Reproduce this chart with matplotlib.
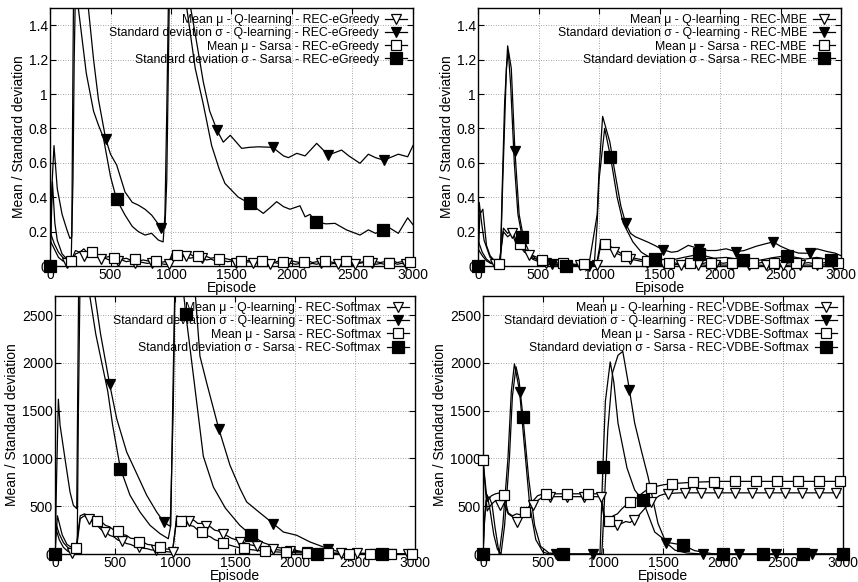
import numpy as np
import matplotlib
matplotlib.use('Agg')
import matplotlib.pyplot as plt
from matplotlib.lines import Line2D
from matplotlib.ticker import FuncFormatter

plt.rcParams['font.family'] = ['Liberation Sans', 'DejaVu Sans']
plt.rcParams['font.size'] = 10

# episodes of the mean curves (one value every 35 episodes)
grid = np.arange(0, 3001, 35)

# ---------------- REC-eGreedy ----------------
tl_mq = [0.15, 0.10, 0.05, 0.03, 0.02, 0.01,
         0.07, 0.08, 0.06, 0.07, 0.05, 0.055, 0.04, 0.045, 0.035, 0.04, 0.03, 0.035, 0.025, 0.03,
         0.02, 0.025, 0.02, 0.015, 0.02, 0.01, 0.015, 0.01,
         0.01,
         0.06, 0.07, 0.05, 0.06, 0.045, 0.05, 0.04, 0.045, 0.035, 0.04,
         0.03, 0.035, 0.03, 0.025, 0.03, 0.02, 0.025, 0.02, 0.025, 0.015,
         0.02, 0.015, 0.02, 0.01, 0.02, 0.015, 0.01, 0.02, 0.015, 0.01,
         0.015, 0.02, 0.01, 0.015, 0.01, 0.02, 0.015, 0.01, 0.015, 0.01,
         0.02, 0.01, 0.015, 0.01, 0.015, 0.02, 0.01, 0.015, 0.01, 0.015,
         0.01, 0.015, 0.02, 0.01, 0.015, 0.01, 0.015]
tl_ms = [0.20, 0.13, 0.08, 0.05, 0.035, 0.03,
         0.09, 0.08, 0.10, 0.07, 0.08, 0.06, 0.065, 0.05, 0.055, 0.045, 0.05, 0.04, 0.045, 0.035,
         0.04, 0.03, 0.035, 0.03, 0.025, 0.03, 0.02, 0.025,
         0.02,
         0.08, 0.065, 0.075, 0.06, 0.07, 0.055, 0.06, 0.05, 0.055, 0.045,
         0.05, 0.04, 0.045, 0.04, 0.035, 0.04, 0.03, 0.035, 0.03, 0.035,
         0.025, 0.03, 0.025, 0.03, 0.02, 0.03, 0.025, 0.02, 0.03, 0.025,
         0.02, 0.025, 0.03, 0.02, 0.025, 0.02, 0.03, 0.025, 0.02, 0.025,
         0.02, 0.03, 0.02, 0.025, 0.02, 0.025, 0.03, 0.02, 0.025, 0.02,
         0.025, 0.02, 0.03, 0.02, 0.025, 0.02, 0.025]
tl_sq_x = [0, 15, 33, 60, 100, 140, 165, 180, 190, 200, 240, 300, 317, 360, 400, 460, 500, 551, 620, 680,
           730, 785, 840, 920, 950, 965, 985, 1000, 1050, 1150, 1200, 1267, 1320, 1380, 1432, 1490, 1584,
           1650, 1722, 1840, 1930, 1970, 2040, 2108, 2204, 2300, 2410, 2470, 2562, 2631, 2690, 2760, 2810,
           2879, 2956, 3000]
tl_sq_y = [0, 0.45, 0.70, 0.45, 0.30, 0.21, 0.16, 0.17, 1.2, 2.0, 2.6, 1.6, 1.5, 1.2, 0.97, 0.74, 0.65,
           0.587, 0.43, 0.37, 0.354, 0.33, 0.296, 0.22, 0.22, 0.5, 1.5, 2.0, 2.4, 1.55, 1.35, 1.07, 0.9,
           0.79, 0.72, 0.76, 0.684, 0.69, 0.693, 0.69, 0.64, 0.63, 0.655, 0.64, 0.713, 0.645, 0.674, 0.64,
           0.597, 0.65, 0.63, 0.615, 0.63, 0.65, 0.635, 0.70]
tl_ss_x = [0, 20, 40, 60, 100, 140, 175, 190, 200, 215, 234, 300, 360, 400, 440, 500, 550, 620, 680, 730,
           785, 840, 895, 935, 950, 965, 980, 1050, 1100, 1130, 1200, 1267, 1336, 1400, 1446, 1556, 1650,
           1763, 1820, 1873, 1930, 1983, 2066, 2108, 2149, 2200, 2280, 2355, 2450, 2562, 2631, 2690, 2750,
           2810, 2879, 2956, 3000]
tl_ss_y = [0, 0.49, 0.25, 0.15, 0.07, 0.04, 0.03, 0.5, 1.2, 1.8, 1.5, 1.12, 0.9, 0.82, 0.75, 0.52, 0.388,
           0.296, 0.23, 0.20, 0.18, 0.19, 0.151, 0.14, 0.3, 0.9, 1.6, 2.2, 1.9, 1.5, 1.15, 0.94, 0.70, 0.56,
           0.48, 0.40, 0.364, 0.306, 0.34, 0.374, 0.345, 0.33, 0.35, 0.286, 0.30, 0.257, 0.245, 0.248, 0.21,
           0.18, 0.21, 0.19, 0.209, 0.22, 0.19, 0.28, 0.24]

# ---------------- REC-MBE ----------------
tr_mq = [0.10, 0.06, 0.03, 0.015, 0.01, 0.005,
         0.20, 0.17, 0.19, 0.13, 0.11, 0.08, 0.065, 0.045, 0.04, 0.025, 0.02, 0.015, 0.012, 0.01,
         0.008, 0.006, 0.005, 0.005, 0.004, 0.004, 0.003, 0.003,
         0.003,
         0.12, 0.10, 0.11, 0.08, 0.07, 0.06, 0.05, 0.04, 0.035, 0.03,
         0.025, 0.02, 0.018, 0.015, 0.012, 0.01, 0.01, 0.008, 0.008, 0.006,
         0.006, 0.005, 0.007, 0.005, 0.006, 0.004, 0.006, 0.005, 0.007, 0.005,
         0.006, 0.005, 0.004, 0.006, 0.005, 0.007, 0.005, 0.006, 0.004, 0.006,
         0.005, 0.007, 0.005, 0.006, 0.004, 0.006, 0.005, 0.007, 0.005, 0.006,
         0.004, 0.006, 0.005, 0.007, 0.005, 0.006, 0.005]
tr_ms = [0.15, 0.08, 0.04, 0.02, 0.015, 0.01,
         0.22, 0.19, 0.21, 0.15, 0.13, 0.10, 0.08, 0.06, 0.05, 0.035, 0.03, 0.025, 0.02, 0.018,
         0.015, 0.013, 0.012, 0.01, 0.01, 0.01, 0.01, 0.01,
         0.01,
         0.15, 0.13, 0.12, 0.10, 0.085, 0.07, 0.06, 0.05, 0.045, 0.04,
         0.035, 0.03, 0.028, 0.025, 0.02, 0.02, 0.018, 0.02, 0.015, 0.018,
         0.015, 0.02, 0.016, 0.018, 0.014, 0.02, 0.017, 0.015, 0.019, 0.016,
         0.02, 0.015, 0.018, 0.016, 0.02, 0.014, 0.018, 0.016, 0.02, 0.015,
         0.018, 0.016, 0.02, 0.015, 0.017, 0.019, 0.015, 0.018, 0.016, 0.02,
         0.015, 0.018, 0.016, 0.02, 0.015, 0.018, 0.016]
tr_sq_x = [0, 10, 30, 50, 100, 150, 185, 200, 220, 245, 275, 305, 340, 380, 430, 500, 610, 700, 915, 985,
           1000, 1030, 1050, 1090, 1130, 1180, 1220, 1260, 1300, 1400, 1460, 1525, 1600, 1650, 1738, 1830,
           1900, 1970, 2050, 2135, 2200, 2300, 2380, 2440, 2500, 2580, 2650, 2745, 2800, 2880, 2950, 3000]
tr_sq_y = [0, 0.37, 0.25, 0.15, 0.05, 0.02, 0.02, 0.45, 0.95, 1.28, 1.15, 0.67, 0.30, 0.15, 0.07, 0.03,
           0.01, 0.01, 0.0, 0.30, 0.55, 0.87, 0.82, 0.72, 0.55, 0.35, 0.25, 0.19, 0.17, 0.14, 0.12, 0.095,
           0.08, 0.085, 0.12, 0.10, 0.09, 0.09, 0.10, 0.083, 0.09, 0.115, 0.13, 0.14, 0.115, 0.09, 0.075,
           0.074, 0.10, 0.085, 0.075, 0.06]
tr_ss_x = [0, 15, 40, 70, 100, 150, 185, 205, 235, 250, 270, 300, 330, 365, 400, 450, 550, 730, 960, 985,
           1000, 1047, 1095, 1150, 1200, 1280, 1350, 1420, 1460, 1600, 1700, 1825, 1950, 2050, 2190, 2300,
           2450, 2555, 2700, 2800, 2920, 3000]
tr_ss_y = [0, 0.30, 0.33, 0.12, 0.06, 0.02, 0.02, 0.5, 1.15, 1.25, 1.05, 0.6, 0.3, 0.17, 0.08, 0.04, 0.01,
           0.0, 0.0, 0.25, 0.5, 0.80, 0.635, 0.40, 0.25, 0.14, 0.08, 0.05, 0.04, 0.035, 0.05, 0.068, 0.045,
           0.05, 0.035, 0.03, 0.05, 0.06, 0.04, 0.05, 0.035, 0.03]

# ---------------- REC-Softmax ----------------
bl_mq = [300, 150, 70, 30, 10, 5,
         370, 400, 370, 330, 300, 255, 235, 195, 180, 145, 135, 110, 100, 80,
         75, 60, 55, 42, 40, 30, 28, 22,
         20,
         400, 370, 380, 350, 355, 320, 320, 290, 285, 250,
         240, 205, 190, 165, 150, 130, 120, 100, 92, 80,
         72, 62, 56, 48, 44, 38, 34, 30, 27, 24,
         21, 19, 17, 15, 14, 12, 11, 10, 9, 8,
         8, 7, 7, 6, 6, 5, 5, 5, 4, 4,
         4, 4, 3, 3, 3, 3, 3]
bl_ms = [350, 210, 120, 70, 45, 60,
         400, 420, 395, 390, 350, 340, 300, 285, 250, 240, 205, 195, 165, 160,
         130, 125, 100, 95, 75, 70, 55, 50,
         45,
         370, 350, 340, 300, 290, 250, 230, 195, 180, 150,
         135, 115, 100, 88, 75, 66, 58, 50, 44, 38,
         34, 30, 27, 24, 21, 19, 17, 15, 14, 12,
         11, 10, 9, 8, 8, 7, 7, 6, 6, 5,
         5, 5, 5, 4, 4, 4, 4, 4, 3, 3,
         3, 3, 3, 3, 3, 3, 3]
bl_sq_x = [0, 15, 28, 42, 83, 125, 153, 181, 190, 200, 250, 300, 333, 380, 455, 514, 597, 681, 764, 847,
           910, 960, 985, 1000, 1050, 1100, 1170, 1208, 1264, 1365, 1458, 1542, 1597, 1681, 1820, 1903,
           2014, 2125, 2275, 2375, 2500, 2730, 3000]
bl_sq_y = [0, 900, 1620, 1350, 1000, 650, 510, 475, 1800, 3200, 3600, 3000, 2700, 2300, 1780, 1417, 1068,
           841, 615, 440, 330, 290, 1500, 2800, 3400, 3300, 2700, 2070, 1790, 1310, 929, 684, 545, 458,
           317, 230, 196, 126, 56, 20, 8, 3, 2]
bl_ss_x = [0, 20, 60, 100, 150, 185, 195, 210, 260, 290, 340, 440, 480, 545, 625, 708, 792, 875, 944, 965,
           980, 1000, 1040, 1090, 1160, 1236, 1320, 1420, 1540, 1635, 1736, 1850, 2000, 2100, 2180, 2400,
           2725, 3000]
bl_ss_y = [0, 400, 200, 100, 60, 60, 1500, 3000, 3200, 2700, 2300, 1700, 1350, 894, 615, 440, 300, 213,
           160, 300, 1500, 2900, 3100, 2510, 1800, 1023, 700, 480, 300, 196, 118, 70, 40, 15, 3, 1, 0, 0]

# ---------------- REC-VDBE-Softmax ----------------
br_mq = [980, 450, 520, 560, 510, 540,
         420, 390, 340, 380, 410, 460, 510, 560, 590, 600, 600, 600, 600, 600,
         600, 600, 600, 600, 600, 600, 600, 600,
         600,
         330, 360, 310, 300, 320, 340, 330, 360, 400, 450,
         500, 540, 580, 610, 625, 630, 635, 638, 640, 640,
         640, 640, 640, 640, 640, 640, 640, 640, 640, 640,
         640, 640, 640, 640, 640, 640, 640, 640, 640, 640,
         640, 640, 640, 640, 640, 640, 640, 640, 640, 640,
         640, 640, 640, 640, 640, 640, 640]
br_ms = [980, 550, 610, 630, 640, 620,
         430, 400, 420, 410, 440, 500, 560, 610, 625, 630, 630, 630, 630, 630,
         630, 630, 630, 630, 630, 630, 630, 630,
         630,
         380, 350, 400, 420, 470, 510, 540, 570, 600, 640,
         670, 690, 705, 715, 725, 730, 735, 740, 742, 745,
         748, 750, 752, 754, 755, 757, 758, 760, 760, 760,
         760, 760, 760, 760, 760, 760, 760, 760, 760, 760,
         760, 760, 760, 760, 760, 760, 760, 760, 760, 760,
         760, 760, 760, 760, 760, 760, 760]
br_sq_x = [0, 10, 25, 50, 75, 100, 135, 165, 208, 236, 262, 305, 340, 390, 440, 500, 550, 610, 915, 990,
           1010, 1040, 1080, 1125, 1165, 1220, 1264, 1320, 1375, 1458, 1525, 1600, 1700, 1830, 2135, 2440,
           2745, 3000]
br_sq_y = [0, 300, 560, 600, 520, 280, 0, 300, 1000, 1700, 1990, 1700, 1200, 500, 150, 20, 0, 0, 0, 0,
           500, 1300, 1900, 2080, 2120, 1720, 1370, 1080, 810, 321, 120, 40, 10, 0, 0, 0, 0, 0]
br_ss_x = [0, 15, 35, 60, 90, 120, 150, 180, 220, 245, 275, 300, 333, 380, 430, 480, 550, 666, 975, 999,
           1020, 1060, 1090, 1125, 1200, 1264, 1332, 1431, 1542, 1665, 1764, 1900, 1998, 2331, 2664, 2997,
           3000]
br_ss_y = [0, 400, 620, 450, 200, 50, 0, 300, 1000, 1650, 1960, 1820, 1435, 800, 300, 80, 10, 0, 0, 911,
           1600, 2010, 1800, 1370, 900, 670, 560, 230, 120, 94, 35, 5, 0, 0, 0, 0, 0]

methods = ['REC-eGreedy', 'REC-MBE', 'REC-Softmax', 'REC-VDBE-Softmax']

# marker looks: (marker, face, size)
STY = {
    'mq': ('v', 'white', 7),
    'sq': ('v', 'black', 7),
    'ms': ('s', 'white', 7.5),
    'ss': ('s', 'black', 8.5),
}

# panel layout in pixels: left, right, top, bottom
boxes = [(50, 413, 8, 266), (478, 841, 8, 266), (55, 415, 296, 554), (483, 843, 296, 554)]

panels = [
    dict(mq=tl_mq, ms=tl_ms, sq=(tl_sq_x, tl_sq_y), ss=(tl_ss_x, tl_ss_y), ytop=1.5,
         yticks=np.arange(0, 1.41, 0.2), steps=dict(mq=(140, 140), ms=(175, 175), sq=(0, 460), ss=(0, 550))),
    dict(mq=tr_mq, ms=tr_ms, sq=(tr_sq_x, tr_sq_y), ss=(tr_ss_x, tr_ss_y), ytop=1.5,
         yticks=np.arange(0, 1.41, 0.2), steps=dict(mq=(140, 140), ms=(175, 175), sq=(0, 305), ss=(0, 365))),
    dict(mq=bl_mq, ms=bl_ms, sq=(bl_sq_x, bl_sq_y), ss=(bl_ss_x, bl_ss_y), ytop=2700,
         yticks=np.arange(0, 2501, 500), steps=dict(mq=(140, 140), ms=(175, 175), sq=(0, 455), ss=(0, 545))),
    dict(mq=br_mq, ms=br_ms, sq=(br_sq_x, br_sq_y), ss=(br_ss_x, br_ss_y), ytop=2700,
         yticks=np.arange(0, 2501, 500), steps=dict(mq=(0, 140), ms=(0, 175), sq=(0, 305), ss=(0, 333))),
]


def draw(ax, x, y, key, start, step, ytop):
    x = np.asarray(x, dtype=float)
    y = np.asarray(y, dtype=float)
    mk, face, size = STY[key]
    ax.plot(x, y, color='black', lw=0.9, zorder=3)
    idx = [i for i in range(len(x))
           if x[i] >= start and (x[i] - start) % step == 0 and y[i] <= ytop]
    ax.plot(x[idx], y[idx], ls='none', marker=mk, ms=size, mfc=face, mec='black',
            mew=0.9, clip_on=False, zorder=4)


fig = plt.figure(figsize=(8.58, 5.82), dpi=100)
W, H = 858, 582
fmt = FuncFormatter(lambda v, p: '%g' % v)

for box, p, meth in zip(boxes, panels, methods):
    l, r, t, b = box
    ax = fig.add_axes([l / W, (H - b) / H, (r - l) / W, (b - t) / H])
    ytop = p['ytop']
    st = p['steps']
    draw(ax, grid, p['mq'], 'mq', *st['mq'], ytop)
    draw(ax, *p['sq'], 'sq', *st['sq'], ytop)
    draw(ax, grid, p['ms'], 'ms', *st['ms'], ytop)
    draw(ax, *p['ss'], 'ss', *st['ss'], ytop)

    ax.set_xlim(0, 3000)
    ax.set_ylim(0, ytop)
    ax.set_xticks(np.arange(0, 3001, 500))
    ax.set_yticks(p['yticks'])
    ax.yaxis.set_major_formatter(fmt)
    ax.tick_params(direction='in', top=True, right=True, length=4, width=0.8, labelsize=10, pad=1.5)
    ax.grid(True, ls=(0, (1, 2)), color='#888888', lw=0.6, zorder=0)
    for s in ax.spines.values():
        s.set_linewidth(1.0)
    ax.set_xlabel('Episode', labelpad=-0.5)
    ax.set_ylabel('Mean / Standard deviation', labelpad=2)

    labels = ['Mean \u03bc - Q-learning - ' + meth,
              'Standard deviation \u03c3 - Q-learning - ' + meth,
              'Mean \u03bc - Sarsa - ' + meth,
              'Standard deviation \u03c3 - Sarsa - ' + meth]
    handles = [Line2D([], [], color='black', lw=0.9, marker=STY[k][0], ms=STY[k][2],
                      mfc=STY[k][1], mec='black', mew=0.9) for k in ['mq', 'sq', 'ms', 'ss']]
    ax.legend(handles, labels, loc='upper right', markerfirst=False, frameon=False,
              handlelength=1.8, handletextpad=0.5, labelspacing=0.1, borderaxespad=0.3,
              borderpad=0.2, fontsize=8.8)

fig.savefig('out.png', dpi=100)
